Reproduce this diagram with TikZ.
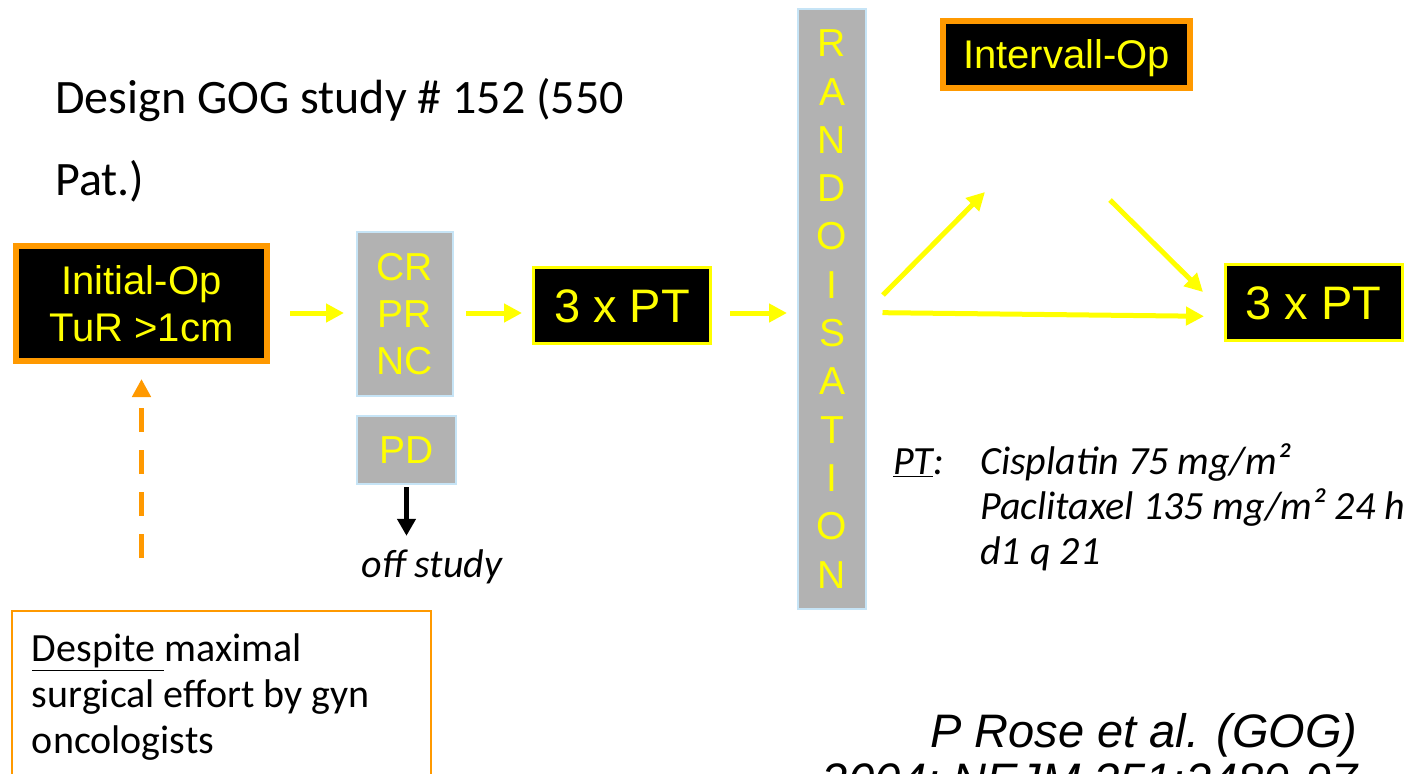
\documentclass[tikz,border=0pt]{standalone}
\usepackage{fontspec}
\setmainfont{Carlito}
\newfontfamily\arialfont{Liberation Sans}
\usetikzlibrary{arrows.meta}
\definecolor{boxorange}{HTML}{FF9900}
\definecolor{boxyellow}{HTML}{FFFF00}
\definecolor{boxgray}{HTML}{B2B2B2}
\definecolor{edgeblue}{HTML}{C6E4F6}
\begin{document}
\begin{tikzpicture}[x=0.5pt,y=-0.5pt,
  darkbox/.style={fill=black, text=boxyellow, inner sep=0pt, align=center,
    font=\arialfont\fontsize{20}{23.25}\selectfont},
  opbox/.style={darkbox, draw=boxorange, line width=3pt},
  ptbox/.style={darkbox, draw=boxyellow, line width=1.5pt,
    font=\arialfont\fontsize{23.5}{27}\selectfont,
    minimum width=88.5pt, minimum height=38pt, text height=16.8pt, text depth=0pt},
  graybox/.style={fill=boxgray, draw=edgeblue, line width=1pt, text=boxyellow,
    inner sep=0pt, align=center, font=\arialfont\fontsize{19.5}{23.5}\selectfont},
  flow/.style={draw=boxyellow, line width=2.5pt, -{Triangle[length=9pt,width=9pt]}},
  plain/.style={inner sep=0pt, align=left},
]
\clip (0,0) rectangle (1410,773);

% heading (anchored on the baseline of its last line)
\node[plain, anchor=base west, font=\fontsize{24}{41}\selectfont] (title) at (55,195)
  {Design GOG study \# 152 (550\\Pat.)};

% boxes of the study flow
\node[opbox, minimum width=125.5pt, minimum height=57.5pt] (init) at (141.5,303.5)
  {Initial-Op\\TuR >1cm};
\node[graybox, minimum width=48pt, minimum height=82pt] (cr) at (405,314) {CR\\PR\\NC};
\node[graybox, minimum width=49.5pt, minimum height=34pt, text height=13.96pt, text depth=0pt]
  (pd) at (406.5,450) {PD};
\node[ptbox] (pt1) at (622,305.5) {3 x PT};
\node[graybox, minimum width=34pt, minimum height=300pt,
  font=\arialfont\fontsize{19.5}{24.15}\selectfont] (rand) at (832,309)
  {R\\A\\N\\D\\O\\I\\S\\A\\T\\I\\O\\N};
\node[opbox, minimum width=123.5pt, minimum height=33.5pt, text height=14.3pt, text depth=0pt]
  (inter) at (1066.5,54.5) {Intervall-Op};
\node[ptbox] (pt2) at (1313.5,302.5) {3 x PT};

% side texts (multi-line ones anchored on their last baseline)
\node[plain, anchor=base, font=\itshape\fontsize{20}{23}\selectfont] (off) at (432,577) {off study};
\node[plain, anchor=base west, font=\itshape\fontsize{20}{22.5}\selectfont] (regimen) at (893,564)
  {\makebox[43.5pt][l]{\underline{PT}:}Cisplatin 75 mg/m²\\
   \hspace*{43.5pt}Paclitaxel 135 mg/m² 24 h\\
   \hspace*{43.5pt}d1 q 21};
\node[inner sep=0pt, align=right, anchor=base east,
  font=\arialfont\itshape\fontsize{23.5}{24.5}\selectfont] (cite) at (1358,796)
  {P Rose et al. (GOG)\\2004; NEJM 351:2489-97};
\node[draw=boxorange, line width=1pt, fill=white, anchor=north west, inner xsep=10pt, inner ysep=0pt,
  font=\fontsize{20}{23}\selectfont] (despite) at (11,610)
  {\parbox[t][95pt][t]{189.5pt}{\raggedright\rule{0pt}{25pt}\underline{Despite\ }maximal\\
   surgical effort by gyn\\oncologists}};

% connectors
\coordinate (row) at (0,313);
\draw[flow, shorten <=10pt, shorten >=6pt] (init.east |- row) -- (cr.west |- row);
\draw[flow, shorten <=6pt, shorten >=5pt] (cr.east |- row) -- (pt1.west |- row);
\draw[flow, shorten <=9pt, shorten >=5pt] (pt1.east |- row) -- (rand.west |- row);
\draw[flow, shorten <=7.75pt, shorten >=9.75pt] ([yshift=-1.75pt]rand.east) -- ([yshift=-7pt]pt2.west);
\coordinate (upfoot) at (883,295);
\coordinate (uptip) at (985,192);
\coordinate (downfoot) at (1110,200);
\coordinate (downtip) at (1203,292);
\draw[flow] (upfoot) -- (uptip);
\draw[flow] (downfoot) -- (downtip);
\draw[black, line width=2.5pt, -{Triangle[length=8.5pt,width=9pt]}, shorten <=1pt, shorten >=6.5pt]
  (pd.south) -- (pd.south |- off.north);
\draw[boxorange, line width=2.5pt, dash pattern=on 12pt off 9pt,
  -{Triangle[length=9pt,width=9pt]}, shorten <=26pt, shorten >=7.5pt]
  (init.south |- despite.north) -- (init.south);
\end{tikzpicture}
\end{document}
